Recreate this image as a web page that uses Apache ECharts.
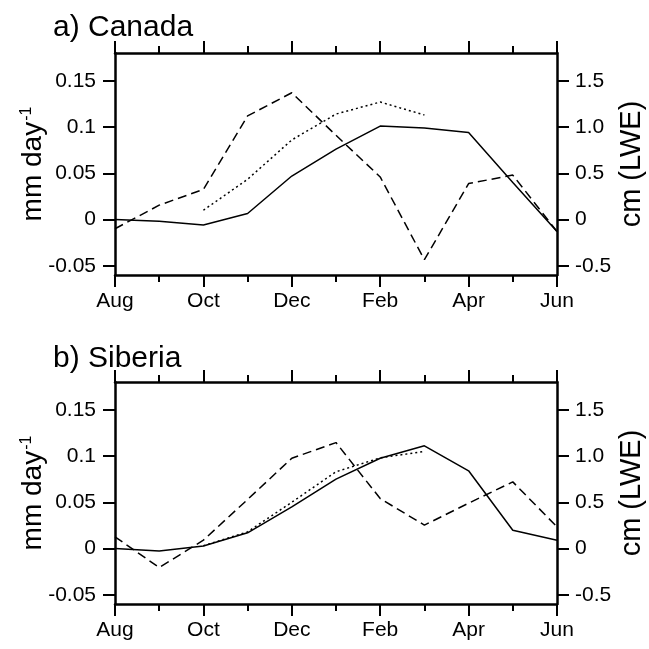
<!DOCTYPE html>
<html>
<head>
<meta charset="utf-8">
<script src="https://cdn.jsdelivr.net/npm/echarts@6/dist/echarts.min.js"></script>
<style>
  html, body { margin: 0; padding: 0; background: #fff; }
  #main { width: 649px; height: 649px; }
</style>
</head>
<body>
<div id="main"></div>
<script>
// months on the x axis, Aug .. Jun
const months = ['Aug', 'Sep', 'Oct', 'Nov', 'Dec', 'Jan', 'Feb', 'Mar', 'Apr', 'May', 'Jun'];

// left axis ticks (mm day-1) and right axis ticks (cm LWE)
const leftTicks = [-0.05, 0, 0.05, 0.1, 0.15];
const rightTicks = [-0.5, 0, 0.5, 1.0, 1.5];
const rightTickLabels = ['-0.5', '0', '0.5', '1.0', '1.5'];

// a) Canada, values in mm day-1
const canadaSolid = [0, -0.002, -0.006, 0.0065, 0.047, 0.076, 0.101, 0.099, 0.094, 0.04, -0.013];
const canadaDashed = [-0.010, 0.0155, 0.0326, 0.112, 0.137, 0.091, 0.046, -0.0435, 0.0388, 0.048, -0.013];
const canadaDotted = [null, null, 0.010, 0.0435, 0.086, 0.114, 0.127, 0.113, null, null, null];

// b) Siberia
const siberiaSolid = [0, -0.0026, 0.0028, 0.017, 0.045, 0.075, 0.0976, 0.111, 0.084, 0.0198, 0.009];
const siberiaDashed = [0.0126, -0.0206, 0.009, 0.053, 0.0976, 0.1145, 0.054, 0.0253, 0.049, 0.072, 0.0234];
const siberiaDotted = [null, null, 0.003, 0.018, 0.050, 0.083, 0.098, 0.105, null, null, null];

const font = 'Liberation Sans, Arial, Helvetica, sans-serif';
const chart = echarts.init(document.getElementById('main'));

// pairs [monthIndex, value], skipping missing months
function pairs(arr) {
  return arr.map((v, i) => [i, v]).filter(p => p[1] !== null);
}

const axisLine = { onZero: false, lineStyle: { color: '#000', width: 2.5 } };
const tick = { length: 12, lineStyle: { color: '#000', width: 2 } };

function xAxes(g) {
  const base = {
    type: 'value', gridIndex: g, min: 0, max: 10, interval: 2,
    axisLine: axisLine,
    axisTick: tick,
    minorTick: { show: true, splitNumber: 2, length: 7, lineStyle: { color: '#000', width: 2 } },
    splitLine: { show: false },
    minorSplitLine: { show: false }
  };
  return [
    Object.assign({}, base, {
      position: 'bottom',
      axisLabel: {
        margin: 16, color: '#000', fontSize: 21, fontFamily: font,
        formatter: v => months[v]
      }
    }),
    Object.assign({}, base, { position: 'top', axisLabel: { show: false } })
  ];
}

function yAxes(g) {
  return [
    {
      type: 'value', gridIndex: g, position: 'left', min: -0.06, max: 0.18,
      name: '{n|mm day}{s|-1}', nameLocation: 'middle', nameGap: 68, nameMoveOverlap: false,
      nameTextStyle: {
        color: '#000', fontFamily: font, fontSize: 28,
        rich: {
          n: { fontSize: 28, fontFamily: font, color: '#000' },
          s: { fontSize: 16, fontFamily: font, color: '#000', verticalAlign: 'top', padding: [0, 0, 10, 1] }
        }
      },
      axisLine: axisLine,
      axisTick: Object.assign({ customValues: leftTicks }, tick),
      axisLabel: { customValues: leftTicks, margin: 19, color: '#000', fontSize: 21, fontFamily: font },
      splitLine: { show: false }
    },
    {
      type: 'value', gridIndex: g, position: 'right', min: -0.6, max: 1.8,
      name: 'cm (LWE)', nameLocation: 'middle', nameGap: 60, nameMoveOverlap: false,
      nameTextStyle: { color: '#000', fontFamily: font, fontSize: 29 },
      axisLine: axisLine,
      axisTick: Object.assign({ customValues: rightTicks }, tick),
      axisLabel: {
        customValues: rightTicks, margin: 18, color: '#000', fontSize: 21, fontFamily: font,
        formatter: v => rightTickLabels[rightTicks.indexOf(Math.round(v * 10) / 10)]
      },
      splitLine: { show: false }
    }
  ];
}

function line(data, g, type) {
  return {
    type: 'line', xAxisIndex: g * 2, yAxisIndex: g * 2,
    data: pairs(data), symbol: 'none', silent: true,
    lineStyle: { color: '#000', width: 1.5, type: type }
  };
}

chart.setOption({
  animation: false,
  title: [
    { text: 'a) Canada', left: 48, top: 8, textStyle: { color: '#000', fontSize: 30, fontWeight: 'normal', fontFamily: font } },
    { text: 'b) Siberia', left: 48, top: 339, textStyle: { color: '#000', fontSize: 30, fontWeight: 'normal', fontFamily: font } }
  ],
  grid: [
    { left: 115, top: 53, width: 442, height: 222, outerBoundsMode: 'none' },
    { left: 115, top: 382, width: 442, height: 222, outerBoundsMode: 'none' }
  ],
  xAxis: xAxes(0).concat(xAxes(1)),
  yAxis: yAxes(0).concat(yAxes(1)),
  series: [
    line(canadaSolid, 0, 'solid'),
    line(canadaDashed, 0, [9, 5]),
    line(canadaDotted, 0, [2, 3]),
    line(siberiaSolid, 1, 'solid'),
    line(siberiaDashed, 1, [9, 5]),
    line(siberiaDotted, 1, [2, 3])
  ]
});
</script>
</body>
</html>
